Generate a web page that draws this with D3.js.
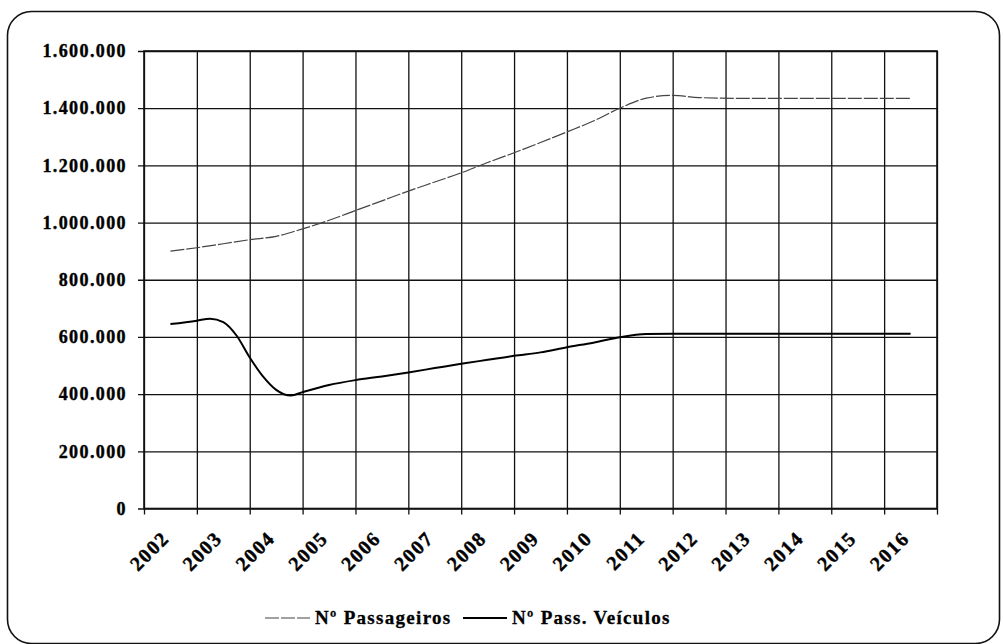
<!DOCTYPE html>
<html>
<head>
<meta charset="utf-8">
<script src="https://cdn.jsdelivr.net/npm/d3@7"></script>
<style>
  body { margin: 0; background: #fff; }
</style>
</head>
<body>
<div id="chart_id"></div>
<script>
// categories and tick values
var years = [2002, 2003, 2004, 2005, 2006, 2007, 2008, 2009, 2010, 2011, 2012, 2013, 2014, 2015, 2016];
var yTicks = [0, 200000, 400000, 600000, 800000, 1000000, 1200000, 1400000, 1600000];

// Nº Passageiros (x as fractional year)
var passX = [2002.0, 2002.5, 2003.0, 2003.5, 2004.0, 2004.5, 2005.0, 2005.5, 2006.0, 2006.5, 2007.0, 2007.5,
             2008.0, 2008.5, 2009.0, 2009.5, 2010.0, 2010.5, 2011.0, 2011.5, 2012.0, 2013.0, 2014.0, 2015.0, 2016.0];
var passY = [900000, 912000, 926000, 940000, 952000, 978000, 1008000, 1042000, 1076000, 1110000, 1142000, 1174000,
             1210000, 1244000, 1280000, 1317000, 1355000, 1400000, 1435000, 1445000, 1437000, 1434000, 1434000, 1434000, 1434000];

// Nº Pass. Veículos
var veicX = [2002.0, 2002.5, 2002.75, 2003.0, 2003.25, 2003.5, 2003.75, 2004.0, 2004.28, 2004.5, 2005.0, 2005.5,
             2006.0, 2006.5, 2007.0, 2007.5, 2008.0, 2008.5, 2009.0, 2009.5, 2010.0, 2010.5, 2011.0, 2011.5,
             2012.0, 2013.0, 2014.0, 2015.0, 2016.0];
var veicY = [645000, 657000, 664000, 652000, 605000, 528000, 462000, 415000, 395000, 407000, 432000, 449000,
             462000, 476000, 491000, 506000, 520000, 534000, 546000, 564000, 580000, 599000, 610000, 611000,
             611000, 611000, 611000, 611000, 611000];

var seriesNames = ["Nº Passageiros", "Nº Pass. Veículos"];

// dimensions
var W = 1003, H = 644;
var margin = {top: 51, right: 66, bottom: 135.5, left: 144},
    width = W - margin.left - margin.right,
    height = H - margin.top - margin.bottom;

var font = "'Liberation Serif', 'Times New Roman', serif";

var svgRoot = d3.select("#chart_id")
  .append("svg")
    .attr("width", W)
    .attr("height", H);

// rounded frame (bottom edge runs off the picture)
svgRoot.append("rect")
    .attr("x", 7.5).attr("y", 11.5)
    .attr("width", 992).attr("height", 632)
    .attr("rx", 24).attr("ry", 24)
    .attr("fill", "none")
    .attr("stroke", "#111")
    .attr("stroke-width", 1.6);

var svg = svgRoot.append("g")
    .attr("transform", "translate(" + margin.left + "," + margin.top + ")");

var x = d3.scaleLinear()
    .domain([years[0] - 0.5, years[years.length - 1] + 0.5])
    .range([0, width]);

var y = d3.scaleLinear()
    .domain([0, 1600000])
    .range([height, 0]);

var ptBR = d3.formatLocale({decimal: ",", thousands: ".", grouping: [3], currency: ["", ""]});
var fmt = ptBR.format(",d");

// horizontal grid + y axis
svg.append("g")
    .call(d3.axisLeft(y).tickValues(yTicks).tickSize(-width).tickPadding(17).tickFormat(fmt))
    .call(function(g) {
      g.select(".domain").remove();
      g.selectAll(".tick line").attr("x1", -6).attr("stroke", "#111").attr("stroke-width", 1.3);
      g.selectAll(".tick text")
        .style("font-family", font)
        .style("font-size", "18px")
        .style("font-weight", "bold")
        .style("letter-spacing", "1.4px")
        .attr("fill", "#000")
        .attr("stroke", "#000")
        .attr("stroke-width", 0.4);
    });

// vertical grid (category boundaries) + x ticks
var bounds = years.map(function(d) { return d - 0.5; }).concat([years[years.length - 1] + 0.5]);
svg.append("g")
    .attr("transform", "translate(0," + height + ")")
    .call(d3.axisBottom(x).tickValues(bounds).tickSize(-height).tickFormat(""))
    .call(function(g) {
      g.select(".domain").remove();
      g.selectAll(".tick line").attr("y1", 6).attr("stroke", "#111").attr("stroke-width", 1.3);
    });

// plot border
svg.append("rect")
    .attr("width", width).attr("height", height)
    .attr("fill", "none")
    .attr("stroke", "#111")
    .attr("stroke-width", 1.6);

// year labels, rotated
svg.append("g")
  .selectAll("text")
  .data(years)
  .enter()
  .append("text")
    .attr("transform", function(d) { return "translate(" + x(d) + "," + (height + 31) + ") rotate(-45)"; })
    .attr("text-anchor", "end")
    .style("font-family", font)
    .style("font-size", "20px")
    .style("font-weight", "bold")
    .style("letter-spacing", "1.5px")
    .attr("stroke", "#000")
    .attr("stroke-width", 0.4)
    .text(function(d) { return d; });

var line = d3.line()
    .x(function(d) { return x(d[0]); })
    .y(function(d) { return y(d[1]); })
    .curve(d3.curveMonotoneX);

var passData = d3.zip(passX, passY);
var veicData = d3.zip(veicX, veicY);

svg.append("path")
    .datum(passData)
    .attr("fill", "none")
    .attr("stroke", "#444")
    .attr("stroke-width", 1.2)
    .attr("stroke-dasharray", "14,2")
    .attr("d", line);

svg.append("path")
    .datum(veicData)
    .attr("fill", "none")
    .attr("stroke", "#000")
    .attr("stroke-width", 2)
    .attr("d", line);

// legend
var legend = svgRoot.append("g");
var legY = 618;
legend.append("line")
    .attr("x1", 265).attr("x2", 310).attr("y1", legY).attr("y2", legY)
    .attr("stroke", "#444").attr("stroke-width", 1.2).attr("stroke-dasharray", "14,2");
legend.append("text")
    .attr("x", 315).attr("y", legY + 6)
    .style("font-family", font).style("font-size", "19px").style("font-weight", "bold")
    .style("letter-spacing", "1.3px")
    .attr("stroke", "#000").attr("stroke-width", 0.3)
    .text(seriesNames[0]);
legend.append("line")
    .attr("x1", 463).attr("x2", 507).attr("y1", legY).attr("y2", legY)
    .attr("stroke", "#000").attr("stroke-width", 1.8);
legend.append("text")
    .attr("x", 512).attr("y", legY + 6)
    .style("font-family", font).style("font-size", "19px").style("font-weight", "bold")
    .style("letter-spacing", "1.3px")
    .attr("stroke", "#000").attr("stroke-width", 0.3)
    .text(seriesNames[1]);
</script>
</body>
</html>
